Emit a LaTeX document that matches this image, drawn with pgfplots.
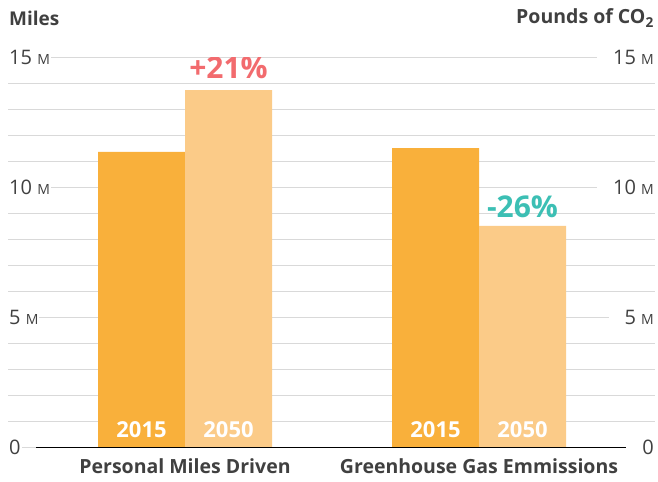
\documentclass[border=0pt]{standalone}
\usepackage{fontspec}
\setmainfont{Open Sans}
\usepackage{pgfplots}
\pgfplotsset{compat=1.18}
\definecolor{barA}{HTML}{F9B03B}
\definecolor{barB}{HTML}{FBCB88}
\definecolor{redc}{HTML}{F26B6E}
\definecolor{tealc}{HTML}{3CBFB4}
\definecolor{gridc}{HTML}{D9D9D9}
\definecolor{txt}{HTML}{404040}
\newcommand{\mlab}{{\fontsize{14bp}{14bp}\selectfont M}}
\begin{document}
\begin{tikzpicture}
\useasboundingbox (0,0) rectangle (658bp,482bp);
\pgfplotsset{base/.style={
  at={(8bp,34.7bp)}, anchor=south west, scale only axis, width=647bp, height=390bp,
  xmin=8, xmax=655, ymin=0, ymax=15,
  axis line style={draw=none}, major tick length=0pt, minor tick length=0pt,
  ytick={0,5,10,15},
  yticklabel style={font=\fontsize{20bp}{22bp}\selectfont, text=txt, fill=white, inner xsep=1bp, inner ysep=2bp},
}}
\begin{axis}[base,
  minor ytick={1,...,14}, ymajorgrids, yminorgrids,
  major grid style={gridc, line width=1bp}, minor grid style={gridc, line width=1bp},
  yticklabel style={anchor=west},
  yticklabels={0\hspace{15bp}, 5 \mlab\hspace{15bp}, 10 \mlab\hspace{15bp}, 15 \mlab\hspace{15bp}},
  xtick={185,479}, xticklabels={Personal Miles Driven, Greenhouse Gas Emmissions},
  xticklabel style={font=\fontsize{19.5bp}{22bp}\selectfont\bfseries, text=txt, yshift=-8bp},
  ybar, bar width=87, bar shift=0pt,
]
\addplot[fill=barA, draw=none] coordinates {(141.5,11.36) (435.5,11.51)};
\addplot[fill=barB, draw=none] coordinates {(228.5,13.74) (522.5,8.52)};
\draw[black, line width=1.3bp] (axis cs:36,0) -- (axis cs:628,0);
\node[text=white, font=\fontsize{22bp}{24bp}\selectfont\bfseries] at (axis cs:141.5,0.665) {2015};
\node[text=white, font=\fontsize{22bp}{24bp}\selectfont\bfseries] at (axis cs:228.5,0.665) {2050};
\node[text=white, font=\fontsize{22bp}{24bp}\selectfont\bfseries] at (axis cs:435.5,0.665) {2015};
\node[text=white, font=\fontsize{22bp}{24bp}\selectfont\bfseries] at (axis cs:522.5,0.665) {2050};
\node[text=redc, font=\fontsize{30bp}{36bp}\selectfont\bfseries] at (axis cs:228.5,14.59) {+21\%};
\node[text=tealc, font=\fontsize{30bp}{36bp}\selectfont\bfseries] at (axis cs:522.5,9.24) {-26\%};
\end{axis}
\begin{axis}[base, yticklabel pos=right, yticklabel style={anchor=east},
  yticklabels={\hspace{15bp}0, \hspace{15bp}5 \mlab, \hspace{15bp}10 \mlab, \hspace{15bp}15 \mlab},
  xtick=\empty]
\end{axis}
\node[anchor=west, inner sep=1bp, text=txt, font=\fontsize{19bp}{22bp}\selectfont\bfseries] at (8bp,464bp) {Miles};
\node[anchor=east, inner sep=1bp, text=txt, font=\fontsize{19.5bp}{22bp}\selectfont\bfseries] at (655bp,464bp) {Pounds of CO\textsubscript{2}};
\end{tikzpicture}
\end{document}
